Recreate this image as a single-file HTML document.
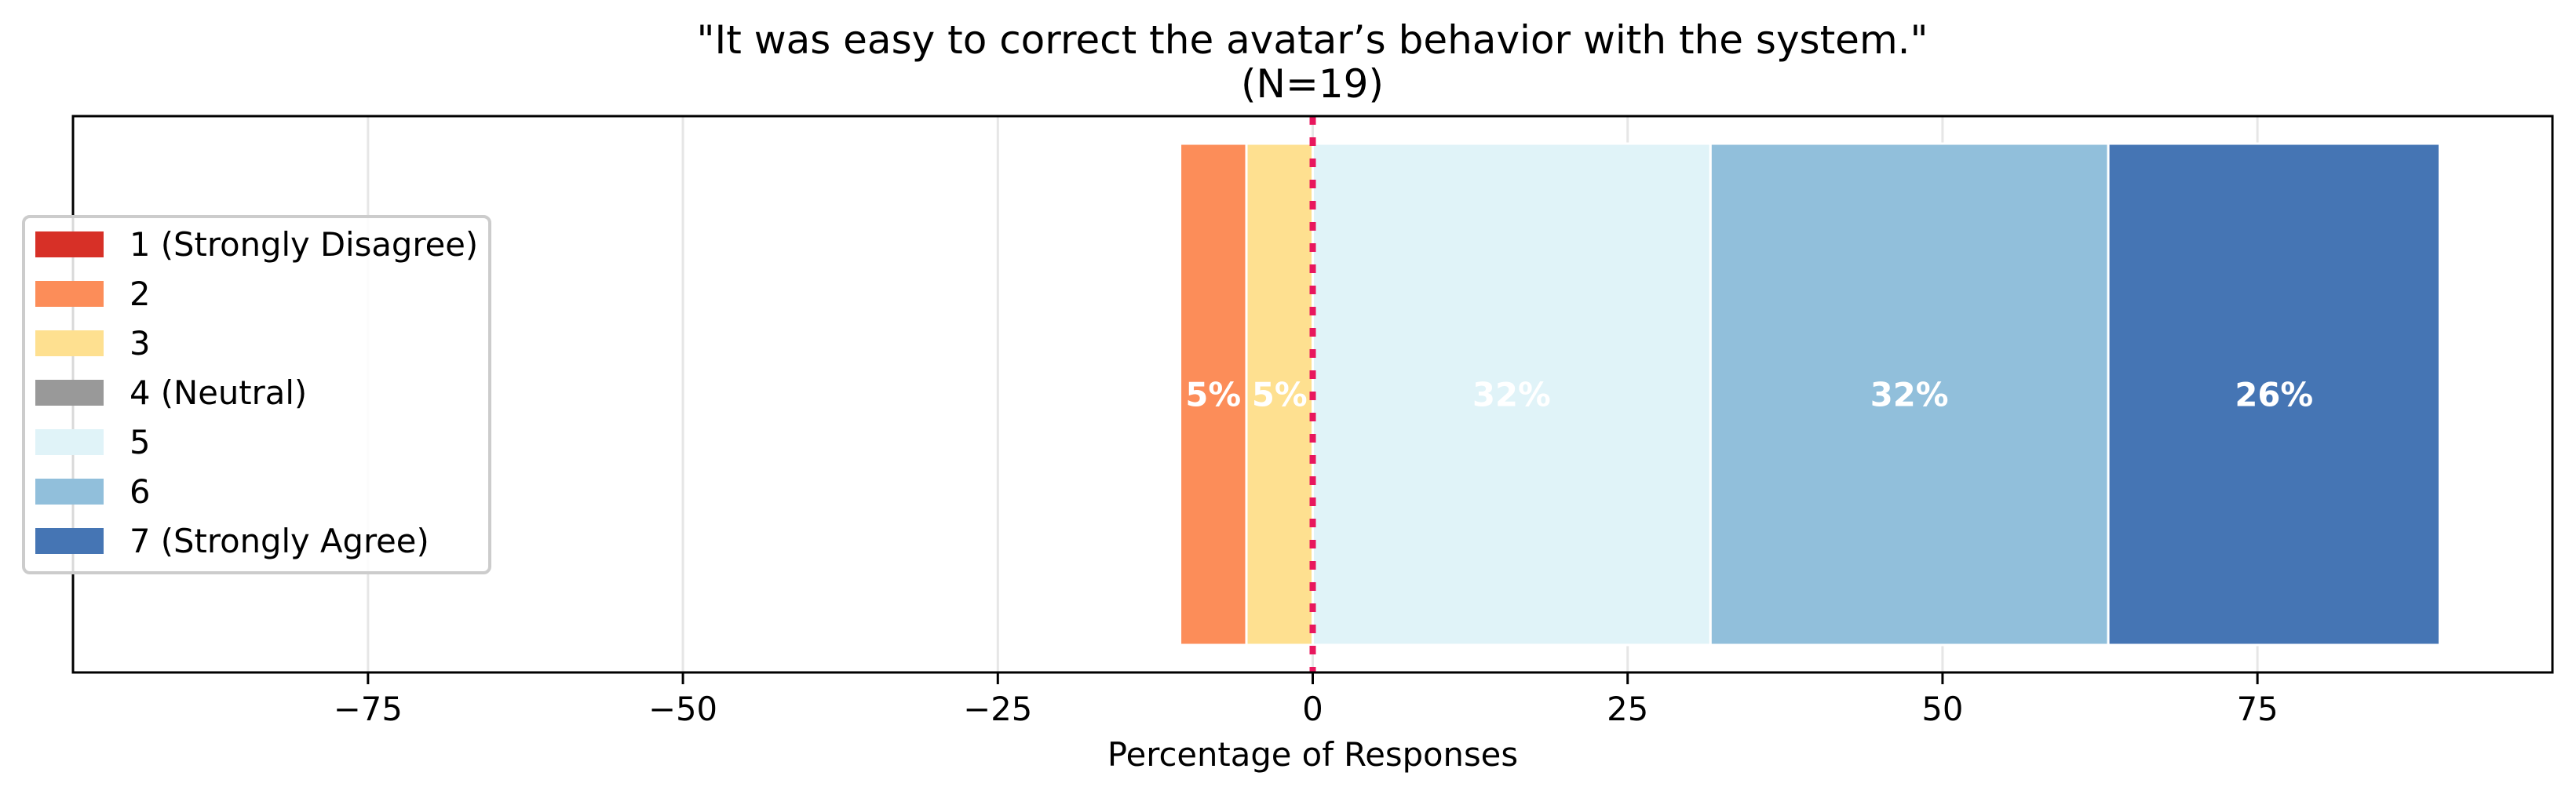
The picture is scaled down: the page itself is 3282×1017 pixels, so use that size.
<!DOCTYPE html>
<html><head><meta charset="utf-8">
<style>
html,body{margin:0;padding:0;background:#fff;}
svg{display:block;font-family:"DejaVu Sans","Liberation Sans",sans-serif;}
</style></head>
<body>
<svg id="chart" width="3282" height="1017" viewBox="0 0 3282 1017" xmlns="http://www.w3.org/2000/svg">
  <rect x="0" y="0" width="3282" height="1017" fill="#fff"/>
  <text x="1672" y="68" font-size="50" text-anchor="middle" fill="#000">"It was easy to correct the avatar’s behavior with the system."</text>
  <text x="1672" y="124" font-size="50" text-anchor="middle" fill="#000">(N=19)</text>
  <g id="grid"></g>
  <g id="bars"></g>
  <g id="axes"></g>
  <g id="legend"></g>
</svg>
<script>
const categories = ["1 (Strongly Disagree)","2","3","4 (Neutral)","5","6","7 (Strongly Agree)"];
const counts = [0,1,1,0,6,6,5];
const total = 19;
const colors = ["#d73027","#fc8d59","#fee090","#999999","#e0f3f8","#91bfdb","#4575b4"];
const tickValues = [-75,-50,-25,0,25,50,75];
const tickLabels = ["\u221275","\u221250","\u221225","0","25","50","75"];

const NS = "http://www.w3.org/2000/svg";
const AX = {left:93, right:3252, top:148, bottom:857};
const pct = counts.map(c => c/total*100);
const maxSide = Math.max(pct[0]+pct[1]+pct[2]+pct[3]/2, pct[4]+pct[5]+pct[6]+pct[3]/2);
const xMax = maxSide*1.1, xMin = -xMax;
function xs(v){ return AX.left + (v - xMin)/(xMax - xMin)*(AX.right - AX.left); }
const barTop = 183, barBottom = 822;
function mk(tag, attrs, parent){
  const e = document.createElementNS(NS, tag);
  for (const k in attrs) e.setAttribute(k, attrs[k]);
  parent.appendChild(e); return e;
}
const grid = document.getElementById('grid');
const bars = document.getElementById('bars');
const axes = document.getElementById('axes');
const legend = document.getElementById('legend');

tickValues.forEach((t,i)=>{
  const g = mk('line',{x1:xs(t),x2:xs(t),y1:AX.top,y2:AX.bottom,stroke:'#e6e6e6','stroke-width':3},grid);
  
  
});

let start = -(pct[0]+pct[1]+pct[2]+pct[3]/2);
pct.forEach((p,i)=>{
  if (p > 0){
    const x0 = xs(start), x1 = xs(start+p);
    const r = mk('rect',{x:x0,y:barTop,width:x1-x0,height:barBottom-barTop,fill:colors[i],stroke:'#fff','stroke-width':3},bars);
    
    
    const t = mk('text',{x:(x0+x1)/2,y:(barTop+barBottom)/2+15,'font-size':41.7,'font-weight':'bold',fill:'#fff','text-anchor':'middle'},bars);
    t.textContent = Math.round(p)+'%';
    
    
  }
  start += p;
});

const zl = mk('line',{x1:xs(0),x2:xs(0),y1:AX.top,y2:AX.bottom,stroke:'#e8175d','stroke-width':8,'stroke-dasharray':'11 16'},bars);



const fr = mk('rect',{x:AX.left,y:AX.top,width:AX.right-AX.left,height:AX.bottom-AX.top,fill:'none',stroke:'#000','stroke-width':3},axes);


tickValues.forEach((t,i)=>{
  const tk = mk('line',{x1:xs(t),x2:xs(t),y1:AX.bottom,y2:AX.bottom+15,stroke:'#000','stroke-width':3},axes);
  
  
  const tl = mk('text',{x:xs(t),y:918,'font-size':41.7,'text-anchor':'middle',fill:'#000'},axes);
  tl.textContent = tickLabels[i];
  
  
});
const xl = mk('text',{x:xs(0),y:976,'font-size':41.7,'text-anchor':'middle',fill:'#000'},axes);
xl.textContent = 'Percentage of Responses';



const lb = mk('rect',{x:30,y:276,width:594,height:454,rx:8,fill:'#fff','fill-opacity':0.85,stroke:'#cccccc','stroke-width':4},legend);


categories.forEach((c,i)=>{
  const y = 295 + i*63;
  const p = mk('rect',{x:45,y:y,width:87,height:33,fill:colors[i]},legend);
  
  
  const t = mk('text',{x:165,y:y+31,'font-size':41.7,fill:'#000'},legend);
  t.textContent = c;
  
  
});
</script>
</body></html>
